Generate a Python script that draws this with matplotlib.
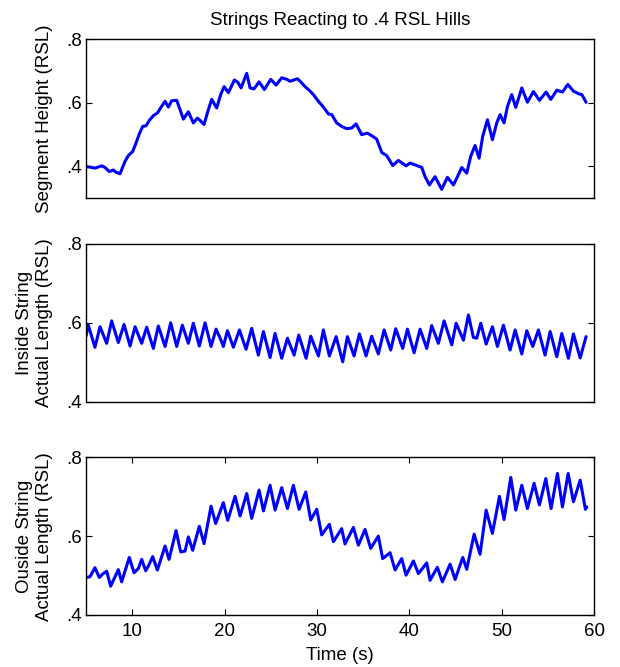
import matplotlib
matplotlib.use("Agg")
import matplotlib.pyplot as plt
from matplotlib.ticker import FuncFormatter

plt.rcParams['font.family'] = ['Liberation Sans', 'DejaVu Sans']

# segment height
t_seg = [5.00, 5.61, 5.97, 6.70, 7.06, 7.53, 7.96, 8.25, 8.68, 9.22, 9.58, 10.05, 10.42,
         10.78, 11.14, 11.50, 11.86, 12.29, 12.73, 13.19, 13.56, 13.92, 14.28, 14.82,
         15.18, 15.54, 16.08, 16.62, 17.06, 17.35, 17.78, 18.25, 18.61, 19.15, 19.58,
         19.95, 20.42, 21.06, 21.43, 21.79, 22.40, 22.76, 23.19, 23.74, 24.31, 25.00,
         25.58, 26.19, 26.73, 27.09, 27.89, 28.18, 28.72, 29.19, 29.62, 30.16, 30.70,
         31.25, 31.61, 32.14, 32.68, 33.22, 33.77, 34.24, 34.85, 35.46, 35.93, 36.47,
         37.02, 37.56, 38.21, 38.82, 39.65, 40.08, 40.63, 41.35, 41.71, 42.18, 42.79,
         43.51, 44.13, 44.78, 45.14, 45.68, 46.22, 46.65, 47.12, 47.56, 47.95, 48.46,
         49.00, 49.47, 49.83, 50.26, 50.63, 51.09, 51.53, 52.18, 52.79, 53.44, 54.09,
         54.81, 55.32, 55.97, 56.58, 57.16, 57.77, 58.31, 58.68, 59.14]
seg_height = [0.400, 0.397, 0.395, 0.402, 0.397, 0.384, 0.389, 0.382, 0.377, 0.416, 0.434,
              0.447, 0.474, 0.503, 0.526, 0.528, 0.545, 0.560, 0.568, 0.589, 0.605, 0.587,
              0.607, 0.608, 0.579, 0.549, 0.572, 0.537, 0.552, 0.545, 0.532, 0.579, 0.611,
              0.584, 0.626, 0.651, 0.632, 0.672, 0.665, 0.647, 0.693, 0.647, 0.644, 0.666,
              0.642, 0.674, 0.656, 0.679, 0.674, 0.668, 0.676, 0.668, 0.651, 0.639, 0.626,
              0.605, 0.587, 0.565, 0.563, 0.537, 0.526, 0.519, 0.521, 0.534, 0.500, 0.505,
              0.497, 0.486, 0.444, 0.434, 0.403, 0.419, 0.402, 0.411, 0.405, 0.397, 0.368,
              0.342, 0.368, 0.328, 0.366, 0.342, 0.363, 0.397, 0.379, 0.432, 0.466, 0.426,
              0.495, 0.547, 0.484, 0.537, 0.563, 0.537, 0.589, 0.626, 0.586, 0.647, 0.602,
              0.636, 0.608, 0.634, 0.611, 0.640, 0.634, 0.658, 0.637, 0.629, 0.626, 0.602]

# inside string length (peaks and troughs)
t_in = [5.00, 5.25, 5.97, 6.52, 7.24, 7.78, 8.50, 9.12, 9.77, 10.31, 11.03, 11.57, 12.29,
        12.83, 13.56, 14.17, 14.82, 15.43, 16.08, 16.62, 17.27, 17.89, 18.54, 19.08,
        19.51, 19.87, 20.31, 20.96, 21.61, 22.33, 22.94, 23.66, 24.21, 24.93, 25.47,
        26.19, 26.81, 27.53, 28.03, 28.83, 29.33, 30.16, 30.70, 31.35, 32.08, 32.79,
        33.30, 34.02, 34.60, 35.32, 35.93, 36.65, 37.27, 37.99, 38.53, 39.29, 39.80,
        40.52, 41.17, 41.89, 42.43, 43.15, 43.77, 44.60, 45.07, 45.86, 46.40, 46.94,
        47.30, 47.74, 48.32, 49.00, 49.54, 50.19, 50.91, 51.46, 52.18, 52.72, 53.37,
        53.98, 54.70, 55.25, 55.97, 56.51, 57.23, 57.77, 58.50, 59.14]
in_len = [0.566, 0.594, 0.538, 0.590, 0.548, 0.605, 0.550, 0.596, 0.541, 0.590, 0.548,
          0.589, 0.535, 0.592, 0.540, 0.600, 0.540, 0.594, 0.548, 0.599, 0.541, 0.600,
          0.540, 0.584, 0.562, 0.540, 0.580, 0.538, 0.582, 0.533, 0.586, 0.518, 0.578,
          0.512, 0.573, 0.510, 0.561, 0.518, 0.569, 0.510, 0.566, 0.516, 0.582, 0.516,
          0.565, 0.501, 0.565, 0.516, 0.572, 0.516, 0.566, 0.521, 0.582, 0.531, 0.585,
          0.535, 0.584, 0.524, 0.584, 0.535, 0.593, 0.548, 0.605, 0.544, 0.599, 0.556,
          0.620, 0.563, 0.561, 0.599, 0.546, 0.590, 0.540, 0.594, 0.531, 0.582, 0.521,
          0.580, 0.540, 0.582, 0.518, 0.578, 0.514, 0.573, 0.510, 0.572, 0.511, 0.565]

# outside string length (peaks and troughs)
t_out = [5.00, 5.43, 5.97, 6.44, 6.81, 7.24, 7.67, 8.50, 8.86, 9.69, 10.20, 10.67, 11.03,
         11.46, 11.75, 12.22, 12.73, 13.56, 13.99, 14.75, 15.25, 15.72, 16.08, 16.55,
         17.27, 17.78, 18.54, 19.04, 19.87, 20.34, 21.14, 21.68, 22.40, 22.94, 23.74,
         24.21, 24.93, 25.47, 26.19, 26.81, 27.45, 28.07, 28.79, 29.33, 29.98, 30.52,
         31.35, 31.78, 32.68, 33.04, 33.95, 34.49, 35.21, 35.82, 36.65, 37.12, 37.92,
         38.46, 39.18, 39.65, 40.45, 40.99, 41.89, 42.25, 43.04, 43.58, 44.42, 44.96,
         45.79, 46.22, 47.02, 47.66, 48.32, 49.00, 49.76, 50.26, 50.99, 51.53, 52.18,
         52.79, 53.51, 54.09, 54.78, 55.35, 56.04, 56.58, 57.20, 57.77, 58.50, 59.07, 59.22]
out_len = [0.495, 0.497, 0.520, 0.495, 0.504, 0.511, 0.473, 0.515, 0.484, 0.546, 0.507,
           0.518, 0.541, 0.512, 0.524, 0.548, 0.514, 0.575, 0.541, 0.614, 0.560, 0.562,
           0.598, 0.564, 0.625, 0.581, 0.676, 0.632, 0.685, 0.640, 0.701, 0.651, 0.708,
           0.645, 0.717, 0.664, 0.729, 0.666, 0.723, 0.670, 0.729, 0.668, 0.712, 0.641,
           0.668, 0.603, 0.630, 0.586, 0.619, 0.580, 0.622, 0.577, 0.617, 0.569, 0.600,
           0.543, 0.558, 0.514, 0.543, 0.501, 0.537, 0.505, 0.532, 0.488, 0.521, 0.484,
           0.529, 0.490, 0.546, 0.516, 0.605, 0.554, 0.666, 0.607, 0.701, 0.642, 0.749,
           0.666, 0.729, 0.670, 0.734, 0.679, 0.746, 0.670, 0.759, 0.674, 0.759, 0.687,
           0.742, 0.668, 0.674]

blue = (0, 0, 1)
fs = 13.5
fmt = FuncFormatter(lambda v, p: ("%.1f" % v).lstrip("0"))

fig = plt.figure(figsize=(6.2, 6.67), dpi=100)
left, width = 0.1387, 0.8194
ax1 = fig.add_axes([left, 0.7027, width, 0.2384])
ax2 = fig.add_axes([left, 0.3978, width, 0.2364])
ax3 = fig.add_axes([left, 0.0780, width, 0.2364])

line_kw = dict(color=blue, lw=2.2, solid_joinstyle='round', solid_capstyle='round')
ax1.plot(t_seg, seg_height, **line_kw)
ax2.plot(t_in, in_len, **line_kw)
ax3.plot(t_out, out_len, **line_kw)

ax1.set_ylim(0.3, 0.8)
ax2.set_ylim(0.4, 0.8)
ax3.set_ylim(0.4, 0.8)

for ax in (ax1, ax2, ax3):
    ax.set_xlim(5, 60)
    ax.set_yticks([0.4, 0.6, 0.8])
    ax.yaxis.set_major_formatter(fmt)
    ax.tick_params(direction='in', length=4, labelsize=fs, right=True, top=True,
                   width=0.8)
    ax.tick_params(axis='y', pad=3)
    ax.tick_params(axis='x', pad=6)
    for s in ax.spines.values():
        s.set_linewidth(1.0)

ax1.set_xticks([])
ax2.set_xticks([])
ax3.set_xticks([10, 20, 30, 40, 50, 60])

ax1.set_title("Strings Reacting to .4 RSL Hills", fontsize=fs, pad=10)
ax1.set_ylabel("Segment Height (RSL)", fontsize=fs, labelpad=9.5)
ax2.set_ylabel("Inside String\nActual Length (RSL)", fontsize=fs, labelpad=9.5)
ax3.set_ylabel("Ouside String\nActual Length (RSL)", fontsize=fs, labelpad=9.5)
ax3.set_xlabel("Time (s)", fontsize=fs, labelpad=5)

fig.savefig("out.png", dpi=100)
